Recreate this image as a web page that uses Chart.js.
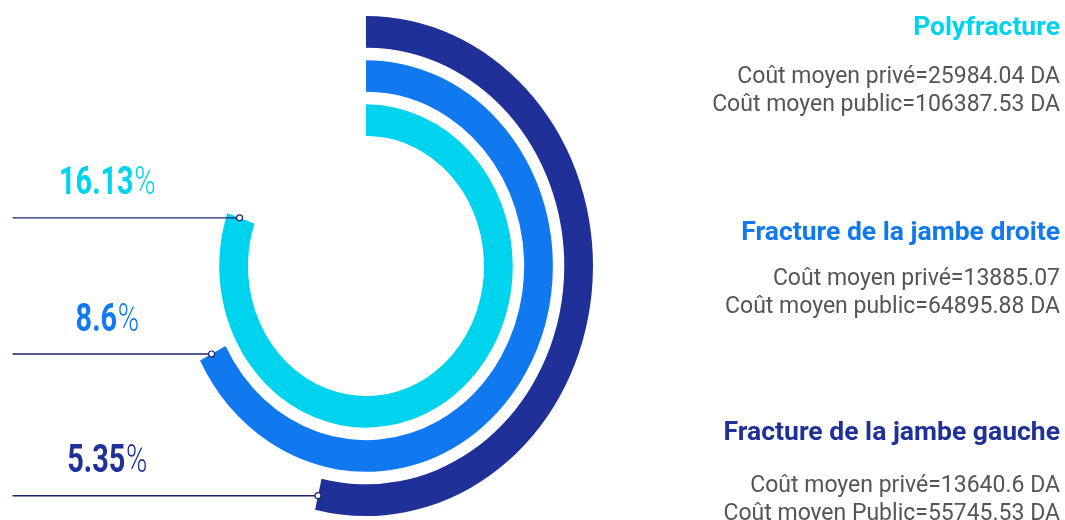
<!DOCTYPE html>
<html>
<head>
<meta charset="utf-8">
<script src="https://cdn.jsdelivr.net/npm/chart.js@4.4.1/dist/chart.umd.min.js"></script>
<style>
  html, body { margin: 0; padding: 0; background: #fff; overflow: hidden; }
  #wrap { width: 1065px; height: 520px; }
</style>
</head>
<body>
<div id="wrap"><canvas id="chart" width="1065" height="520"></canvas></div>
<script>
// categories, from the inner ring to the outer ring
const categories = ['Polyfracture', 'Fracture de la jambe droite', 'Fracture de la jambe gauche'];
const percentages = ['16.13', '8.6', '5.35'];
// length of each ring, in % of a full turn
const arcLength = [80.3, 67.4, 53.6];
const lignePrive = ['Coût moyen privé=25984.04 DA', 'Coût moyen privé=13885.07', 'Coût moyen privé=13640.6 DA'];
const lignePublic = ['Coût moyen public=106387.53 DA', 'Coût moyen public=64895.88 DA', 'Coût moyen Public=55745.53 DA'];

const couleurs = ['#00d3ee', '#1079ef', '#1f3199'];
const titreY = [35, 240, 440];
const ligneY = [83, 285, 492];
const squashX = 0.908;
const ringWeight = 31.5, gapWeight = 12.5;

// outer ring first for chart.js
const datasets = [];
for (let i = categories.length - 1; i >= 0; i--) {
    datasets.push({
        label: categories[i],
        data: [arcLength[i], 100 - arcLength[i]],
        backgroundColor: [couleurs[i], 'rgba(0,0,0,0)'],
        borderWidth: 0,
        weight: ringWeight,
        ringIndex: i
    });
    if (i > 0) datasets.push({
        label: 'gap',
        data: [100],
        backgroundColor: ['rgba(0,0,0,0)'],
        borderWidth: 0,
        weight: gapWeight
    });
}

const squash = {
    id: 'squash',
    beforeDatasetsDraw(chart) {
        const ctx = chart.ctx, a = chart.chartArea;
        const cx = (a.left + a.right) / 2;
        ctx.save();
        ctx.translate(cx, 0);
        ctx.scale(squashX, 1);
        ctx.translate(-cx, 0);
    },
    afterDatasetsDraw(chart) { chart.ctx.restore(); }
};

const etiquettes = {
    id: 'etiquettes',
    afterDraw(chart) {
        const ctx = chart.ctx;
        const a = chart.chartArea;
        const cx = (a.left + a.right) / 2;
        chart.data.datasets.forEach((ds, di) => {
            if (ds.ringIndex === undefined) return;
            const i = ds.ringIndex;
            const arc = chart.getDatasetMeta(di).data[0];
            const r = (arc.innerRadius + arc.outerRadius) / 2 + 1.5;
            const px = cx + (arc.x + r * Math.cos(arc.endAngle) - cx) * squashX;
            const py = arc.y + r * Math.sin(arc.endAngle);

            ctx.save();
            ctx.strokeStyle = '#1b2370';
            ctx.lineWidth = 1.4;
            ctx.beginPath();
            ctx.moveTo(12.5, py);
            ctx.lineTo(px, py);
            ctx.stroke();
            ctx.beginPath();
            ctx.arc(px, py, 3, 0, Math.PI * 2);
            ctx.fillStyle = '#fff';
            ctx.fill();
            ctx.lineWidth = 1.2;
            ctx.stroke();

            // percentage label
            ctx.translate(107, py - 23.5);
            ctx.scale(0.74, 1);
            ctx.fillStyle = couleurs[i];
            ctx.textBaseline = 'alphabetic';
            ctx.font = 'bold 39px Roboto';
            const w1 = ctx.measureText(percentages[i]).width;
            ctx.font = '300 39px Roboto';
            const w2 = ctx.measureText('%').width;
            const x0 = -(w1 + w2) / 2;
            ctx.font = 'bold 39px Roboto';
            ctx.textAlign = 'left';
            ctx.fillText(percentages[i], x0, 0);
            ctx.font = '300 39px Roboto';
            ctx.fillText('%', x0 + w1 + 1, 0);
            ctx.restore();

            // right side texts
            ctx.save();
            ctx.textAlign = 'right';
            ctx.fillStyle = couleurs[i];
            ctx.font = 'bold 26px Roboto';
            ctx.translate(1060, titreY[i]);
            ctx.scale(1.02, 1);
            ctx.fillText(categories[i], 0, 0);
            ctx.restore();
            ctx.save();
            ctx.textAlign = 'right';
            ctx.fillStyle = '#555555';
            ctx.font = '23px Roboto';
            ctx.fillText(lignePrive[i], 1060, ligneY[i]);
            ctx.fillText(lignePublic[i], 1060, ligneY[i] + 28);
            ctx.restore();
        });
    }
};

new Chart(document.getElementById('chart'), {
    type: 'doughnut',
    data: { labels: ['valeur', 'reste'], datasets: datasets },
    options: {
        responsive: false,
        animation: false,
        cutout: '52%',
        layout: { padding: { left: 116, right: 449, top: 16, bottom: 4 } },
        hover: { mode: null },
        plugins: { legend: { display: false }, tooltip: { enabled: false } },
        elements: { arc: { borderWidth: 0, hoverOffset: 0 } }
    },
    plugins: [squash, etiquettes]
});
</script>
</body>
</html>
